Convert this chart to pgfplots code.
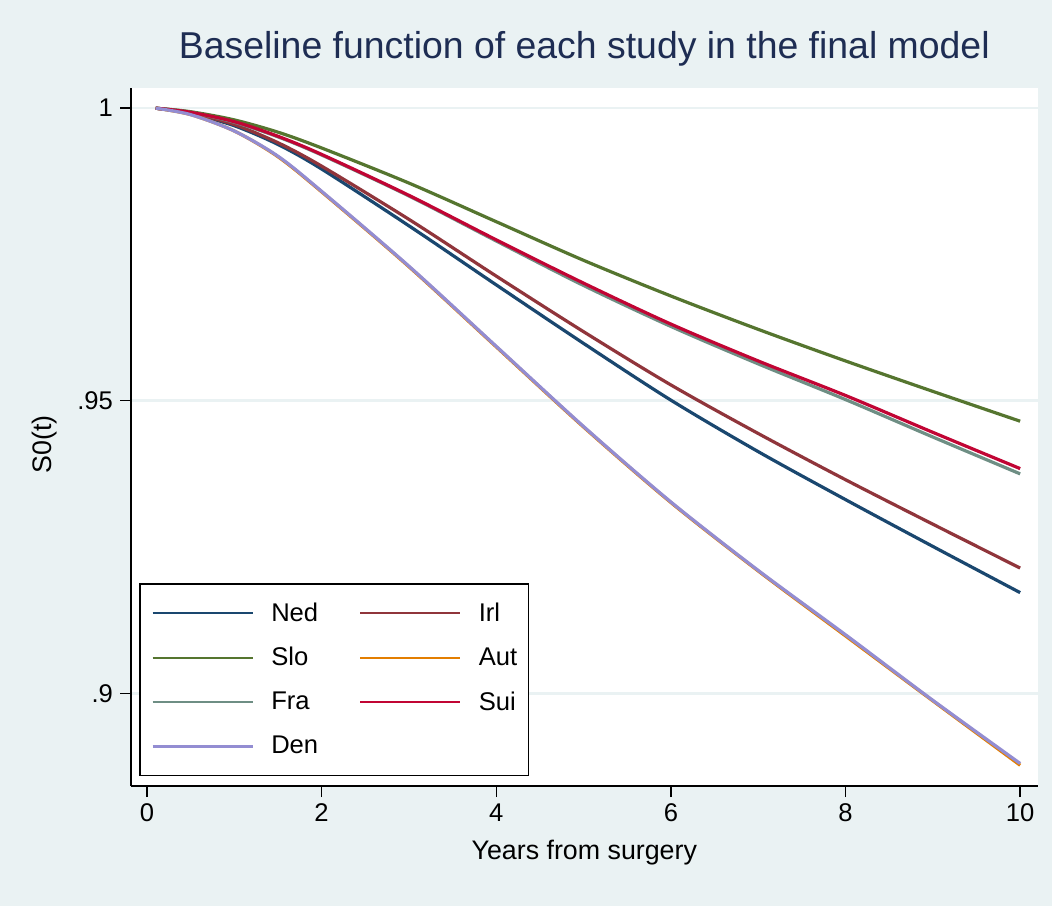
\documentclass[border=0pt]{standalone}
\usepackage{pgfplots}
\pgfplotsset{compat=1.18}
\usepackage{fontspec}
\setmainfont{Liberation Sans}
\definecolor{bg}{RGB}{234,242,243}
\definecolor{titlecol}{RGB}{30,45,83}
\definecolor{cnavy}{RGB}{26,71,111}
\definecolor{cmaroon}{RGB}{144,53,59}
\definecolor{cforest}{RGB}{85,117,47}
\definecolor{corange}{RGB}{227,126,0}
\definecolor{cteal}{RGB}{110,142,132}
\definecolor{ccran}{RGB}{193,5,52}
\definecolor{clav}{RGB}{147,141,210}
\begin{document}
\begin{tikzpicture}[x=1pt,y=1pt]
\fill[bg] (-65.5,-60) rectangle (460.5,393);
\begin{axis}[
  at={(0,0)}, anchor=south west,
  scale only axis, width=453.3pt, height=348.85pt,
  xmin=-0.183, xmax=10.2, ymin=0.88415, ymax=1.0034,
  axis x line*=bottom, axis y line*=left,
  axis line style={line width=0.75pt, black, -},
  axis background/.style={fill=white},
  xtick={0,2,4,6,8,10},
  ytick={0.9,0.95,1}, yticklabels={.9,.95,1},
  tick align=outside, major tick length=5.5pt,
  tick style={line width=0.75pt, black},
  ymajorgrids, grid style={line width=1.3pt, color=bg},
  /pgf/number format/assume math mode=true,
  ticklabel style={font=\fontsize{12.8}{14}\selectfont},
  title={Baseline function of each study in the final model},
  title style={at={(axis description cs:0.5,1.026)}, anchor=base, font=\fontsize{18.7}{22}\selectfont, color=titlecol},
  xlabel={Years from surgery},
  xlabel style={at={(axis description cs:0.5,-0.106)}, anchor=base, font=\fontsize{13.4}{15}\selectfont},
  ylabel={S0(t)},
  ylabel style={at={(axis description cs:-0.095,0.49)}, anchor=center, font=\fontsize{13.4}{15}\selectfont},
  legend columns=2,
  legend cell align=left,
  legend image code/.code={\draw[#1, line width=1.1pt] (0pt,0pt) -- (50pt,0pt);},
  legend style={at={(0.00916,0.0143)}, anchor=south west, draw=black, line width=0.75pt, fill=white,
    inner xsep=5.7pt, inner ysep=7.25pt, font=\fontsize{12.8}{14}\selectfont,
    nodes={inner xsep=0pt},
    row sep=7.5pt,
    /tikz/every odd column/.append style={column sep=8.8pt},
    /tikz/every even column/.append style={column sep=20.4pt}},
  every axis plot/.append style={line width=1.6pt, smooth},
]
\addplot[cnavy] table {
0.1 1.0000
0.5 0.9991
1 0.9970
1.5 0.9938
2 0.9896
3 0.9799
4 0.9698
5 0.9598
6 0.9501
7 0.9413
8 0.9331
9 0.9251
10 0.9172
};
\addlegendentry{Ned}
\addplot[cmaroon] table {
0.1 1.0000
0.5 0.9992
1 0.9972
1.5 0.9941
2 0.9901
3 0.9810
4 0.9713
5 0.9618
6 0.9527
7 0.9444
8 0.9365
9 0.9289
10 0.9214
};
\addlegendentry{Irl}
\addplot[cforest] table {
0.1 1.0000
0.5 0.9994
1 0.9980
1.5 0.9959
2 0.9932
3 0.9872
4 0.9806
5 0.9740
6 0.9679
7 0.9622
8 0.9568
9 0.9516
10 0.9465
};
\addlegendentry{Slo}
\addplot[corange] table {
0.1 1.0000
0.5 0.9989
1 0.9961
1.5 0.9917
2 0.9857
3 0.9729
4 0.9592
5 0.9455
6 0.9326
7 0.9209
8 0.9098
9 0.8987
10 0.8877
};
\addlegendentry{Aut}
\addplot[cteal] table {
0.1 1.0000
0.5 0.9993
1 0.9976
1.5 0.9951
2 0.9920
3 0.9850
4 0.9773
5 0.9697
6 0.9627
7 0.9563
8 0.9502
9 0.9438
10 0.9375
};
\addlegendentry{Fra}
\addplot[ccran] table {
0.1 1.0000
0.5 0.9993
1 0.9977
1.5 0.9952
2 0.9921
3 0.9851
4 0.9775
5 0.9701
6 0.9631
7 0.9568
8 0.9509
9 0.9446
10 0.9384
};
\addlegendentry{Sui}
\addplot[clav] table {
0.1 1.0000
0.5 0.9989
1 0.9961
1.5 0.9918
2 0.9858
3 0.9730
4 0.9593
5 0.9456
6 0.9327
7 0.9210
8 0.9100
9 0.8988
10 0.8880
};
\addlegendentry{Den}
\end{axis}
\end{tikzpicture}
\end{document}
